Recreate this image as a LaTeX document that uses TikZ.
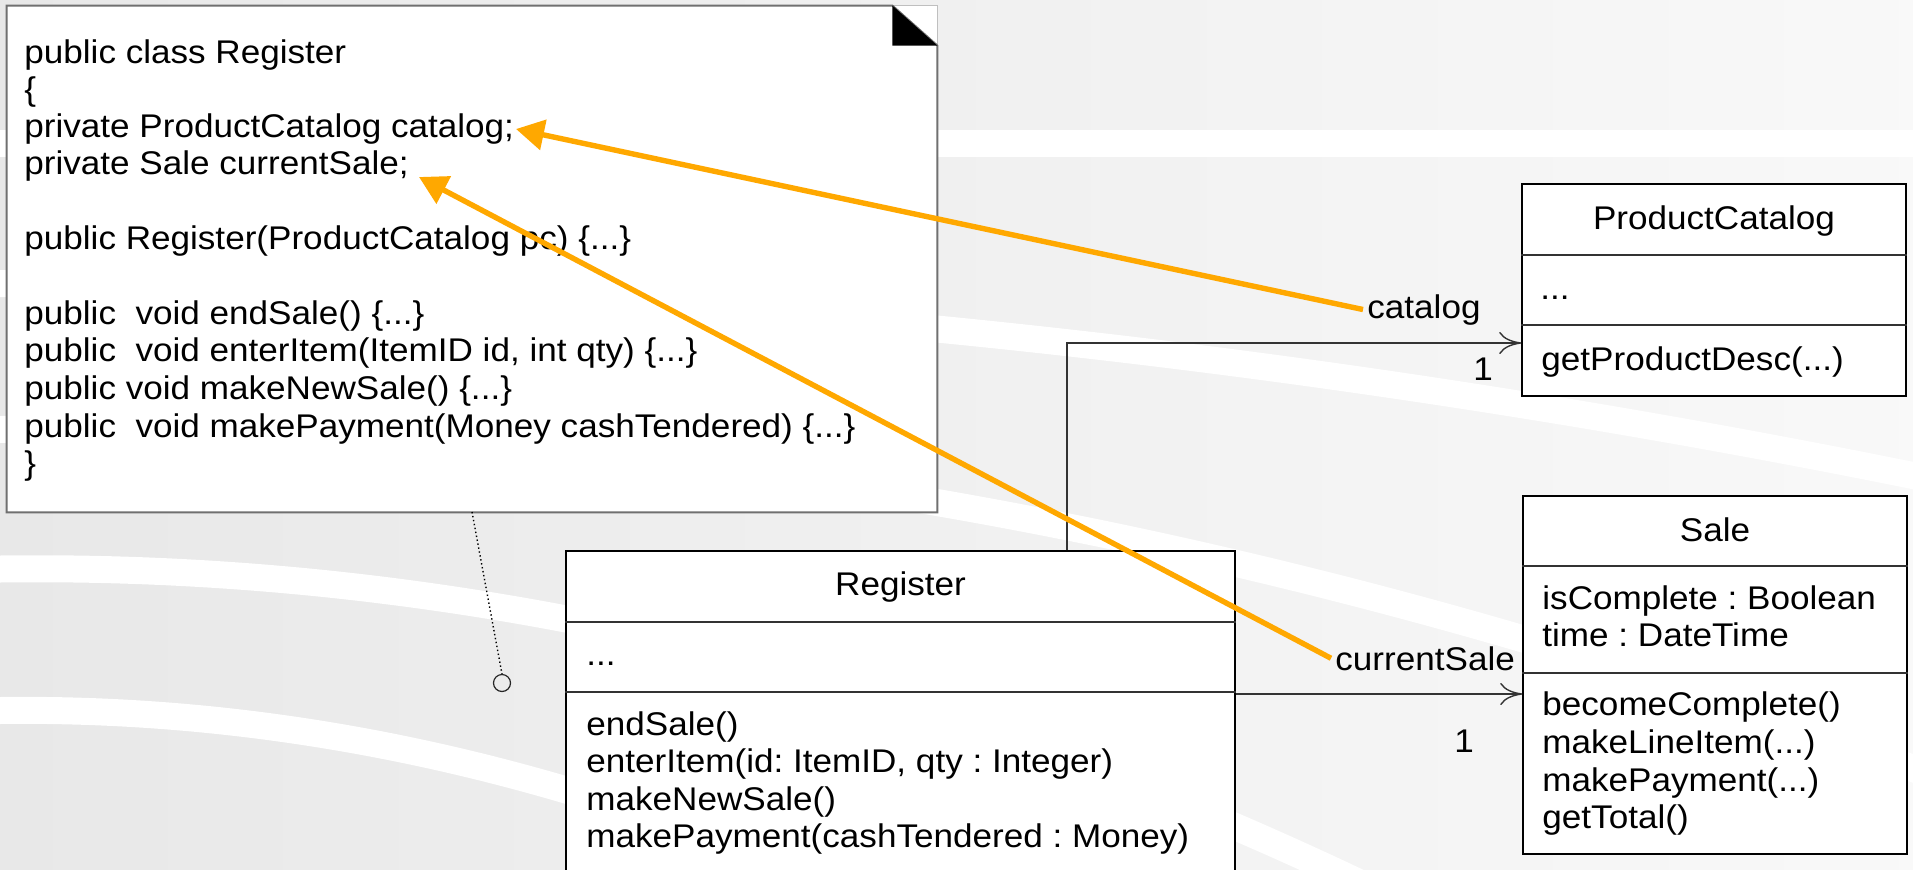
\documentclass[tikz,border=0pt]{standalone}
\usepackage{fontspec}
\setmainfont{Liberation Sans}[FakeStretch=1.07]
\usetikzlibrary{arrows.meta,fit,calc}
\definecolor{hiorange}{RGB}{255,168,0}
\definecolor{notegray}{RGB}{112,112,112}
\frenchspacing
\begin{document}
\begin{tikzpicture}[x=0.5pt,y=-0.5pt,
  txt/.style={font=\fontsize{16.4pt}{18.5pt}\selectfont\frenchspacing, inner sep=0pt, anchor=base west},
  title/.style={txt, anchor=base},
  classbox/.style={draw=black, line width=0.75pt, fill=white, inner sep=0pt},
  divider/.style={draw=black!80, line width=0.75pt},
  assoc/.style={draw=black!80, line width=0.7pt, -{Computer Modern Rightarrow[length=11pt,width=11pt]}},
  rolelabel/.style={txt, inner xsep=2pt},
  pointer/.style={draw=hiorange, line width=2.7pt, -{Triangle[length=14pt,width=15pt]}},
  band/.style={draw=white, line width=13.5pt},
]
% canvas
\useasboundingbox (0,0) rectangle (1913,869);
\clip (0,0) rectangle (1913,869);
\shade[left color=black!9, right color=black!2.5] (0,0) rectangle (1913,869);

% sweeping white bands of the backdrop
\draw[band] (-50,143.5) -- (1960,143.5);
\draw[band] plot[domain=-0.05:1.96, samples=80, smooth] ({1000*\x}, {283.5-1.2*\x+53.1*\x*\x});
\draw[band] plot[domain=-0.05:1.96, samples=80, smooth] ({1000*\x}, {429.5-17.4*\x+101.7*\x*\x});
\draw[band] plot[domain=-0.05:1.5, samples=80, smooth] ({1000*\x}, {569-13.4*\x+179.7*\x*\x});
\draw[band] plot[domain=-0.05:1.0, samples=60, smooth] ({1000*\x}, {710.5-13*\x+271*\x*\x});

% code note with folded corner
\node[fit={(7,6)(937,512)}, inner sep=0pt, fill=white] (note) {};
\draw[black!25, line width=0.5pt] ([xshift=-22.5pt]note.north east) -- (note.north east) -- ([yshift=-20pt]note.north east);
\draw[notegray, line width=1pt] (note.north west) -- ([xshift=-22.5pt]note.north east)
  -- ([yshift=-20pt]note.north east) -- (note.south east) -- (note.south west) -- cycle;
\fill[black] ([xshift=-22.5pt]note.north east) -- ([xshift=-22.5pt,yshift=-20pt]note.north east)
  -- ([yshift=-20pt]note.north east) -- cycle;

\node[txt] (code1) at (24,63) {public class Register};
\node[txt] (code2) at (24,100) {\{};
\node[txt] (code3) at (24,137.5) {private ProductCatalog catalog;};
\node[txt] (code4) at (24,174.5) {private Sale currentSale;};
\node[txt] (code5) at (24,249) {public Register(ProductCatalog pc) \{...\}};
\node[txt] (code6) at (24,324) {public\ \ void endSale() \{...\}};
\node[txt] (code7) at (24,361.6) {public\ \ void enterItem(ItemID id, int qty) \{...\}};
\node[txt] (code8) at (24,399.3) {public void makeNewSale() \{...\}};
\node[txt] (code9) at (24,437) {public\ \ void makePayment(Money cashTendered) \{...\}};
\node[txt] (code10) at (24,474.7) {\}};

% note attachment
\node[circle, draw=black!85, line width=0.6pt, minimum size=8.5pt, inner sep=0pt] (notepin) at (502,683) {};
\coordinate (notefoot) at (472,512);
\draw[black, line width=0.7pt, dash pattern=on 0.7pt off 1.3pt] (notefoot) -- (notepin.north);

% class Register
\node[classbox, fit={(566,551)(1235,900)}] (regbox) {};
\draw[divider] (regbox.west |- 0,622) -- (regbox.east |- 0,622);
\draw[divider] (regbox.west |- 0,692) -- (regbox.east |- 0,692);
\node[title] (regname) at (regbox.north |- 0,595) {Register};
\node[txt] (regattr) at (586,665) {...};
\node[txt] (regop1) at (586,735) {endSale()};
\node[txt] (regop2) at (586,772.5) {enterItem(id: ItemID, qty : Integer)};
\node[txt] (regop3) at (586,810) {makeNewSale()};
\node[txt] (regop4) at (586,847) {makePayment(cashTendered : Money)};

% class ProductCatalog
\node[classbox, fit={(1522,184)(1906,396)}] (pcbox) {};
\draw[divider] (pcbox.west |- 0,255) -- (pcbox.east |- 0,255);
\draw[divider] (pcbox.west |- 0,325) -- (pcbox.east |- 0,325);
\node[title] (pcname) at (pcbox.north |- 0,229) {ProductCatalog};
\node[txt] (pcattr) at (1540,299) {...};
\node[txt] (pcop) at (1541,370) {getProductDesc(...)};

% class Sale
\node[classbox, fit={(1523,496)(1907,854)}] (salebox) {};
\draw[divider] (salebox.west |- 0,566) -- (salebox.east |- 0,566);
\draw[divider] (salebox.west |- 0,673) -- (salebox.east |- 0,673);
\node[title] (salename) at (salebox.north |- 0,541) {Sale};
\node[txt] (saleattr1) at (1542,609) {isComplete : Boolean};
\node[txt] (saleattr2) at (1542,646) {time : DateTime};
\node[txt] (saleop1) at (1542,715) {becomeComplete()};
\node[txt] (saleop2) at (1542,753) {makeLineItem(...)};
\node[txt] (saleop3) at (1542,791) {makePayment(...)};
\node[txt] (saleop4) at (1542,828) {getTotal()};

% associations
\coordinate (pcjoint) at (1067,343);
\draw[assoc] (regbox.north -| pcjoint) |- (pcbox.west |- pcjoint);
\coordinate (salejoint) at (1235,694);
\draw[assoc] (regbox.east |- salejoint) -- (salebox.west |- salejoint);

\node[rolelabel] (catrole) at (1363,318) {catalog};
\node[txt] (catmult) at (1473,380) {1};
\node[rolelabel] (salerole) at (1331,670) {currentSale};
\node[txt] (salemult) at (1454,752) {1};

% pointers from role names to the fields
\coordinate (catfield) at (516,129);
\coordinate (salefield) at (419,177);
\draw[pointer] (catrole.west) -- (catfield);
\draw[pointer] (salerole.west) -- (salefield);
\end{tikzpicture}
\end{document}
